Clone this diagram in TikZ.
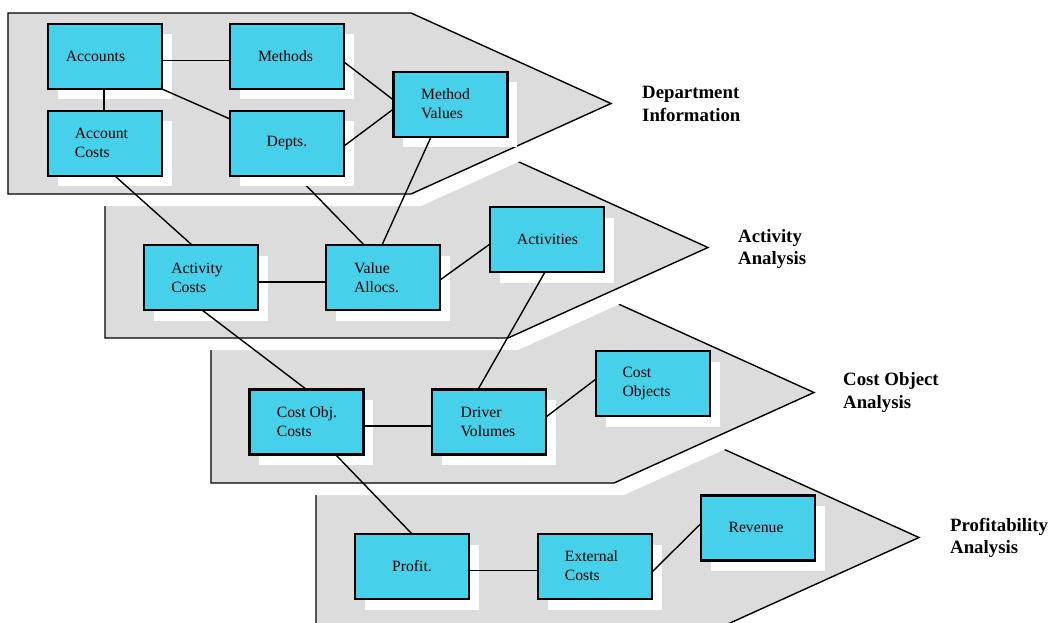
\documentclass[tikz,border=0pt]{standalone}
\usepackage{fontspec}
\setmainfont{Liberation Serif}
\usetikzlibrary{shadows}
\definecolor{boxcyan}{RGB}{70,208,234}
\definecolor{pentgrey}{RGB}{220,220,220}
\pgfdeclarelayer{pentlayer}
\pgfdeclarelayer{underlayer}
\pgfsetlayers{pentlayer,underlayer,main}
\newcommand\drawpent[2]{%
  \fill[white] (#1+10,#2+12) -- (#1+413,#2+12) -- (#1+613,#2+102.5) -- (#1+413,#2+193) -- (#1+10,#2+193) -- cycle;
  \draw[pentline] (#1,#2) -- (#1+403,#2) -- (#1+603,#2+90.5) -- (#1+403,#2+181) -- (#1,#2+181) -- cycle;
}
\tikzset{
  pentline/.style={fill=pentgrey, draw=black, line width=1.4pt, line join=miter},
  box/.style={draw=black, fill=boxcyan, line width=2.5pt, minimum width=114pt, minimum height=65pt,
    inner sep=0pt, outer sep=0pt,
    drop shadow={shadow xshift=9.5pt, shadow yshift=-10.5pt, fill=white, opacity=1}},
  txt/.style={font=\fontsize{15.7}{19}\selectfont, align=left, inner sep=0pt},
  lab/.style={font=\bfseries\fontsize{18.8}{22.3}\selectfont, align=left, anchor=west, inner sep=0pt},
  conn/.style={draw=black, line width=1.4pt}
}
\begin{document}
\begin{tikzpicture}[x=1pt,y=-1pt]
\useasboundingbox (0,0) rectangle (1050,623);
\clip (0,0) rectangle (1050,623);
\begin{pgfonlayer}{pentlayer}
  \draw[pentline] (316,447) -- (719,447) -- (919,537.5) -- (719,628) -- (316,628) -- cycle;
  \drawpent{211}{302}
  \drawpent{105}{157}
  \drawpent{8}{13}
\end{pgfonlayer}

% boxes
\node[box] (acc)  at (105,56.5) {};
\node[box] (met)  at (287,56.5) {};
\node[box] (accc) at (105,143.5) {};
\node[box] (dep)  at (287,143.5) {};
\node[box] (mv)   at (450.5,104.5) {};
\node[box] (ac)   at (201,277.5) {};
\node[box] (va)   at (383,277.5) {};
\node[box] (act)  at (547,239.5) {};
\node[box] (coc)  at (306.5,422) {};
\node[box] (dv)   at (489,422) {};
\node[box] (co)   at (653,383.5) {};
\node[box] (pr)   at (412,566.5) {};
\node[box] (ec)   at (595,566.5) {};
\node[box] (rev)  at (758,528) {};

% box texts
\node[txt] (taccounts) at (95.5,56.5) {Accounts};
\node[txt] (tmethods) at (285.5,56.5) {Methods};
\node[txt] (taccc) at (101.5,143) {Account\\Costs};
\node[txt] (tdep) at (287,143) {Depts.};
\node[txt] (tmv) at (445.5,104) {Method\\Values};
\node[txt] (tac) at (197,277.5) {Activity\\Costs};
\node[txt] (tva) at (376.5,277.5) {Value\\Allocs.};
\node[txt] (tact) at (547.5,239) {Activities};
\node[txt] (tcoc) at (307,421.5) {Cost Obj.\\Costs};
\node[txt] (tdv) at (488,421.5) {Driver\\Volumes};
\node[txt] (tco) at (646.5,383) {Cost\\Objects};
\node[txt] (tpr) at (412,566) {Profit.};
\node[txt] (tec) at (591.5,565.5) {External\\Costs};
\node[txt] (trev) at (756,527) {Revenue};

% stage labels
\node[lab] (l1) at (642,104) {Department\\Information};
\node[lab] (l2) at (738,249) {Activity\\Analysis};
\node[lab] (l3) at (843,392.5) {Cost Object\\Analysis};
\node[lab] (l4) at (950,538) {Profitability\\Analysis};

% connector hidden under the Depts. shadow
\begin{pgfonlayer}{underlayer}
  \draw[conn] ([xshift=10pt]dep.south) -- ([xshift=-19pt]va.north);
\end{pgfonlayer}

% connectors
\draw[conn] ([yshift=-4pt]acc.east) -- ([yshift=-4pt]met.west);
\draw[conn] ([xshift=-1pt]acc.south) -- ([xshift=-1pt]accc.north);
\draw[conn] (acc.south east) -- ([yshift=24.5pt]dep.west);
\draw[conn] ([yshift=-5.5pt]met.east) -- ([yshift=4.5pt]mv.west);
\draw[conn] ([yshift=-2.5pt]dep.east) -- ([yshift=-4.5pt]mv.west);
\draw[conn] ([xshift=10pt]accc.south) -- ([xshift=-9pt]ac.north);
\draw[conn] ([xshift=-19.5pt]mv.south) -- ([xshift=-1pt]va.north);
\draw[conn] ([yshift=-4.5pt]ac.east) -- ([yshift=-4.5pt]va.west);
\draw[conn] ([yshift=-2.5pt]va.east) -- ([yshift=-4.5pt]act.west);
\draw[conn] ([xshift=1pt]ac.south) -- (coc.north);
\draw[conn] ([xshift=-2pt]act.south) -- ([xshift=-11pt]dv.north);
\draw[conn] ([yshift=-4pt]coc.east) -- ([yshift=-4pt]dv.west);
\draw[conn] ([yshift=5pt]dv.east) -- ([yshift=4.5pt]co.west);
\draw[conn] ([xshift=29pt]coc.south) -- (pr.north);
\draw[conn] ([yshift=-4pt]pr.east) -- ([yshift=-4pt]ec.west);
\draw[conn] ([yshift=-5.5pt]ec.east) -- ([yshift=4.5pt]rev.west);
\end{tikzpicture}
\end{document}
